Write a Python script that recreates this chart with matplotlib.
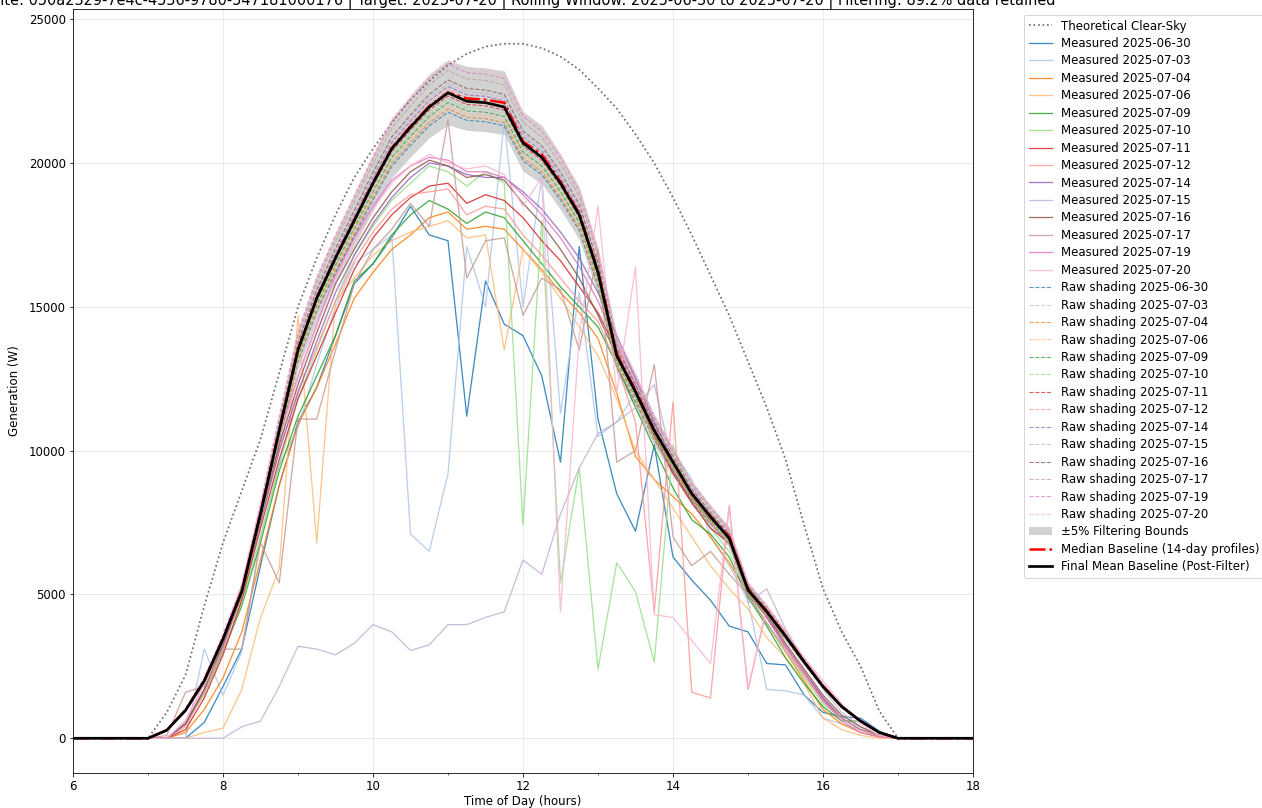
import matplotlib
matplotlib.use("Agg")
import matplotlib.pyplot as plt
from matplotlib.ticker import MultipleLocator
import numpy as np

# 15-minute slots, 6:00 -> 18:00 (values listed only for 7:00 -> 17:00, zero outside)
hours = np.arange(6, 18.01, 0.25)

def full(v):
    return [0] * 4 + v + [0] * 4

days = ["2025-06-30", "2025-07-03", "2025-07-04", "2025-07-06", "2025-07-09", "2025-07-10", "2025-07-11",
        "2025-07-12", "2025-07-14", "2025-07-15", "2025-07-16", "2025-07-17", "2025-07-19", "2025-07-20"]

clear_sky = [0, 900, 2200, 4600, 6800, 8600, 10400, 12700, 15000, 16700, 18200, 19500, 20500, 21400, 22200,
             22850, 23400, 23800, 24050, 24150, 24150, 24000, 23700, 23250, 22600, 21900, 21000, 20000, 18800,
             17500, 16100, 14700, 13100, 11500, 9700, 7400, 5200, 3700, 2500, 950, 0]

mean_base = [0, 280, 970, 2000, 3450, 5100, 7800, 10700, 13500, 15300, 16700, 18000, 19300, 20500, 21250, 21950,
             22440, 22150, 22100, 21950, 20700, 20200, 19300, 18200, 16200, 13300, 12050, 10700, 9600, 8500, 7700,
             6950, 5150, 4400, 3550, 2650, 1800, 1100, 600, 200, 0]

median_base = [0, 280, 980, 2010, 3460, 5120, 7820, 10720, 13520, 15320, 16720, 18020, 19320, 20520, 21280, 21980,
               22450, 22250, 22200, 22100, 20750, 20300, 19350, 18250, 16250, 13350, 12100, 10720, 9620, 8520, 7720,
               7000, 5180, 4420, 3570, 2660, 1810, 1100, 600, 200, 0]

measured = [
    # 06-30
    [0, 0, 0, 550, 1800, 3100, 6000, 8800, 11000, 12200, 14000, 15800, 16500, 17400, 18500, 17500, 17300, 11200,
     15900, 14400, 14000, 12600, 9600, 17100, 11100, 8500, 7200, 10200, 6300, 5500, 4800, 3900, 3700, 2600, 2550,
     1500, 900, 750, 700, 250, 0],
    # 07-03
    [0, 0, 0, 3100, 1500, 3000, 7000, 9500, 10800, 13000, 15000, 16500, 17000, 17500, 7100, 6500, 9200, 17100,
     15000, 21500, 15000, 19500, 11300, 15500, 10500, 11000, 12000, 10500, 10000, 9000, 7000, 6000, 4800, 1700,
     1650, 1500, 700, 500, 300, 100, 0],
    # 07-04
    [0, 0, 200, 1000, 2100, 3700, 6200, 8800, 10900, 12200, 13700, 15300, 16200, 17000, 17500, 18100, 18300, 17700,
     17800, 17700, 17000, 16300, 15500, 14800, 13900, 12000, 9800, 9000, 8400, 7800, 7000, 6100, 5000, 4000, 3000,
     2000, 1000, 500, 200, 50, 0],
    # 07-06
    [0, 0, 0, 200, 350, 1700, 4200, 5900, 14700, 6800, 15200, 16000, 16800, 17300, 17600, 17800, 18000, 17400,
     17500, 13500, 17000, 16200, 15300, 14300, 13300, 11800, 10000, 9000, 8000, 7000, 6000, 5200, 4500, 3500, 2800,
     1900, 700, 300, 100, 0, 0],
    # 07-09
    [0, 0, 500, 1600, 3000, 4600, 6800, 9300, 11200, 12600, 14000, 15900, 16500, 17500, 18200, 18700, 18400, 17900,
     18300, 18100, 17300, 16500, 15700, 15000, 14300, 13000, 11500, 10100, 8700, 7600, 7100, 6300, 4900, 3900, 2800,
     1900, 1100, 600, 600, 200, 0],
    # 07-10
    [0, 0, 500, 1500, 3000, 4700, 7000, 9500, 11800, 13500, 15200, 16800, 17800, 18700, 19300, 19900, 19700, 19200,
     19700, 19300, 7400, 18000, 5400, 9400, 2400, 6100, 5100, 2650, 10200, 8400, 7300, 6500, 5000, 4000, 3000, 2100,
     1200, 700, 300, 100, 0],
    # 07-11
    [0, 0, 300, 1400, 2900, 4800, 7300, 9700, 11800, 13300, 14800, 16300, 17400, 18200, 18800, 19200, 19300, 18600,
     18900, 18700, 18100, 17300, 16600, 15700, 14800, 13500, 12000, 10500, 9200, 8200, 7300, 6800, 5100, 4200, 3200,
     2300, 1400, 700, 300, 100, 0],
    # 07-12
    [0, 0, 400, 1600, 3100, 5000, 7600, 10000, 12100, 13600, 15200, 16600, 17600, 18400, 18900, 19000, 19100, 18200,
     18500, 18400, 17500, 16800, 16000, 15200, 14500, 13000, 11000, 4400, 11700, 1600, 1400, 8100, 1700, 4500, 3000,
     2200, 1300, 700, 300, 100, 0],
    # 07-14
    [0, 0, 500, 1700, 3200, 5000, 7500, 10000, 12000, 13800, 15500, 16800, 17900, 18800, 19500, 20000, 19900, 19600,
     19500, 19500, 19000, 18400, 17600, 16700, 15500, 14000, 12500, 11000, 9600, 8600, 7700, 6900, 5200, 4200, 3200,
     2300, 1400, 700, 300, 100, 0],
    # 07-15
    [0, 0, 0, 0, 0, 400, 600, 1800, 3200, 3100, 2900, 3300, 3950, 3700, 3050, 3250, 3950, 3950, 4200, 4400, 6200,
     5700, 7800, 9400, 10600, 11000, 11500, 12300, 9500, 8600, 7800, 7000, 4700, 5200, 3800, 2700, 1700, 900, 400,
     100, 0],
    # 07-16
    [0, 0, 500, 1700, 3300, 5100, 7700, 10200, 12300, 14100, 15800, 17000, 18100, 19000, 19700, 20100, 19900, 19500,
     19600, 19400, 18600, 17900, 17000, 16000, 14700, 13300, 12000, 10600, 9300, 8300, 7600, 7100, 5300, 4300, 3300,
     2400, 1500, 800, 400, 100, 0],
    # 07-17
    [0, 100, 1600, 1800, 3100, 3100, 6800, 5400, 11100, 11100, 13500, 15800, 17000, 17700, 18600, 17800, 21500,
     16000, 17300, 17400, 14700, 16000, 15600, 13500, 17000, 9600, 10000, 13000, 7000, 6000, 6500, 5700, 5000, 4000,
     3100, 2200, 1300, 700, 300, 100, 0],
    # 07-19
    [0, 0, 600, 1900, 3500, 5300, 8000, 10500, 12600, 14400, 16100, 17400, 18500, 19400, 19900, 20200, 20100, 19700,
     19700, 19500, 18900, 18200, 17400, 16400, 15200, 13700, 12300, 10800, 9400, 8400, 7500, 6800, 5100, 4200, 3200,
     2300, 1300, 600, 200, 50, 0],
    # 07-20
    [0, 0, 600, 1900, 3400, 5200, 7900, 10400, 12500, 14300, 16000, 17300, 18400, 19300, 19900, 20300, 20000, 19800,
     19900, 19600, 18500, 19500, 4400, 14000, 18500, 12000, 16400, 4300, 4200, 3400, 2600, 8100, 1700, 4600, 3600,
     2800, 2000, 1200, 500, 100, 0],
]

raw_shading = [
    [0, 272, 941, 1940, 3347, 4947, 7566, 10379, 13095, 14841, 16199, 17460, 18721, 19885, 20613, 21292, 21767,
     21486, 21437, 21292, 20079, 19594, 18721, 17654, 15714, 12901, 11689, 10379, 9312, 8245, 7469, 6742, 4996,
     4268, 3444, 2571, 1746, 1067, 582, 194, 0],
    [0, 273, 946, 1950, 3364, 4972, 7605, 10432, 13162, 14917, 16282, 17550, 18817, 19987, 20719, 21401, 21879,
     21596, 21547, 21401, 20182, 19695, 18817, 17745, 15795, 12967, 11749, 10432, 9360, 8287, 7507, 6776, 5021,
     4290, 3461, 2584, 1755, 1072, 585, 195, 0],
    [0, 273, 946, 1950, 3364, 4972, 7605, 10432, 13162, 14917, 16282, 17550, 18817, 19987, 20719, 21401, 21879,
     21596, 21547, 21401, 20182, 19695, 18817, 17745, 15795, 12967, 11749, 10432, 9360, 8287, 7507, 6776, 5021,
     4290, 3461, 2584, 1755, 1072, 585, 195, 0],
    [0, 274, 951, 1960, 3381, 4998, 7644, 10486, 13230, 14994, 16366, 17640, 18914, 20090, 20825, 21511, 21991,
     21707, 21658, 21511, 20286, 19796, 18914, 17836, 15876, 13034, 11809, 10486, 9408, 8330, 7546, 6811, 5047,
     4312, 3479, 2597, 1764, 1078, 588, 196, 0],
    [0, 276, 955, 1970, 3398, 5023, 7683, 10539, 13297, 15070, 16449, 17730, 19010, 20192, 20931, 21621, 22103,
     21818, 21768, 21621, 20389, 19897, 19010, 17927, 15957, 13100, 11869, 10539, 9456, 8372, 7584, 6846, 5073,
     4334, 3497, 2610, 1773, 1083, 591, 197, 0],
    [0, 277, 960, 1980, 3415, 5049, 7722, 10593, 13365, 15147, 16533, 17820, 19107, 20295, 21037, 21730, 22216,
     21928, 21879, 21730, 20493, 19998, 19107, 18018, 16038, 13167, 11929, 10593, 9504, 8415, 7623, 6880, 5098,
     4356, 3514, 2623, 1782, 1089, 594, 198, 0],
    [0, 279, 965, 1990, 3433, 5074, 7761, 10646, 13432, 15223, 16616, 17910, 19203, 20397, 21144, 21840, 22328,
     22039, 21990, 21840, 20596, 20099, 19203, 18109, 16119, 13233, 11990, 10646, 9552, 8457, 7661, 6915, 5124,
     4378, 3532, 2637, 1791, 1094, 597, 199, 0],
    [0, 281, 975, 2010, 3467, 5126, 7839, 10754, 13568, 15377, 16784, 18090, 19397, 20603, 21356, 22060, 22552,
     22261, 22211, 22060, 20804, 20301, 19397, 18291, 16281, 13367, 12110, 10754, 9648, 8543, 7739, 6985, 5176,
     4422, 3568, 2663, 1809, 1106, 603, 201, 0],
    [0, 283, 980, 2020, 3485, 5151, 7878, 10807, 13635, 15453, 16867, 18180, 19493, 20705, 21463, 22170, 22664,
     22372, 22321, 22170, 20907, 20402, 19493, 18382, 16362, 13433, 12171, 10807, 9696, 8585, 7777, 7020, 5202,
     4444, 3586, 2677, 1818, 1111, 606, 202, 0],
    [0, 284, 985, 2030, 3502, 5177, 7917, 10861, 13703, 15530, 16951, 18270, 19590, 20808, 21569, 22279, 22777,
     22482, 22432, 22279, 21011, 20503, 19590, 18473, 16443, 13500, 12231, 10861, 9744, 8628, 7816, 7054, 5227,
     4466, 3603, 2690, 1827, 1117, 609, 203, 0],
    [0, 286, 989, 2040, 3519, 5202, 7956, 10914, 13770, 15606, 17034, 18360, 19686, 20910, 21675, 22389, 22889,
     22593, 22542, 22389, 21114, 20604, 19686, 18564, 16524, 13566, 12291, 10914, 9792, 8670, 7854, 7089, 5253,
     4488, 3621, 2703, 1836, 1122, 612, 204, 0],
    [0, 290, 1004, 2070, 3571, 5279, 8073, 11075, 13973, 15836, 17285, 18630, 19976, 21218, 21994, 22718, 23225,
     22925, 22874, 22718, 21425, 20907, 19976, 18837, 16767, 13766, 12472, 11075, 9936, 8798, 7970, 7193, 5330,
     4554, 3674, 2743, 1863, 1139, 621, 207, 0],
    [0, 293, 1014, 2090, 3605, 5330, 8151, 11182, 14108, 15989, 17452, 18810, 20169, 21423, 22206, 22938, 23450,
     23147, 23095, 22938, 21632, 21109, 20169, 19019, 16929, 13899, 12592, 11182, 10032, 8883, 8047, 7263, 5382,
     4598, 3710, 2769, 1881, 1150, 627, 209, 0],
    [0, 294, 1019, 2100, 3623, 5355, 8190, 11235, 14175, 16065, 17535, 18900, 20265, 21525, 22313, 23048, 23562,
     23258, 23205, 23048, 21735, 21210, 20265, 19110, 17010, 13965, 12653, 11235, 10080, 8925, 8085, 7298, 5408,
     4620, 3728, 2783, 1890, 1155, 630, 210, 0],
]

title = ("Site: 050a2329-7e4c-4556-9780-547181000176 | Target: 2025-07-20 | "
         "Rolling Window: 2025-06-30 to 2025-07-20 | Filtering: 89.2% data retained")

plt.rcParams['font.size'] = 11.7
fig = plt.figure(figsize=(1262 / 72, 808 / 72), dpi=72)
ax = fig.add_axes([73 / 1262, 35 / 808, 900 / 1262, 764 / 808])

colors = plt.cm.tab20.colors

ax.plot(hours, full(clear_sky), ':', color='dimgray', lw=1.7, label='Theoretical Clear-Sky')
for i, d in enumerate(days):
    ax.plot(hours, full(measured[i]), '-', color=colors[i], lw=1.3, alpha=0.85, label='Measured ' + d)
for i, d in enumerate(days):
    ax.plot(hours, full(raw_shading[i]), '--', color=colors[i], lw=1.1, alpha=0.75, label='Raw shading ' + d)

med = np.array(full(median_base), dtype=float)
ax.fill_between(hours, med * 0.95, med * 1.05, color='gray', alpha=0.35, lw=0, zorder=1,
                label='±5% Filtering Bounds')
ax.plot(hours, med, '-.', color='red', lw=2.5, label='Median Baseline (14-day profiles)')
ax.plot(hours, full(mean_base), '-', color='black', lw=2.7, label='Final Mean Baseline (Post-Filter)')

ax.set_xlim(6, 18)
ax.xaxis.set_major_locator(MultipleLocator(2))
ax.xaxis.set_minor_locator(MultipleLocator(1))
ax.tick_params(labelsize=11.7)
ax.grid(True, which='major', alpha=0.3)
ax.set_xlabel('Time of Day (hours)', labelpad=2)
ax.set_ylabel('Generation (W)', labelpad=8)
ax.set_title(title, pad=4, fontsize=14.5)
ax.legend(loc='upper left', bbox_to_anchor=(1.05, 1.0), fontsize=11.7, labelspacing=0.38)

fig.savefig('out.png', dpi=72)
